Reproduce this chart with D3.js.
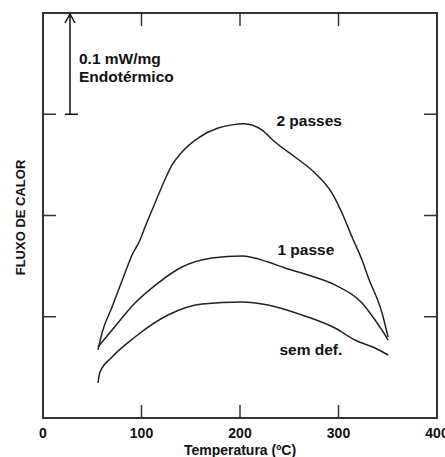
<!DOCTYPE html>
<html>
<head>
<meta charset="utf-8">
<script src="https://cdn.jsdelivr.net/npm/d3@7"></script>
<style>
  body { margin: 0; background: #fff; }
  text { font-family: Arial, "Liberation Sans", sans-serif; font-weight: bold; fill: #111; }
</style>
</head>
<body>
<div id="chart"></div>
<script>
// temperature (ºC) and heat flow (mW/mg, arbitrary offset)
var temp2 = [55.8, 59.9, 70.1, 83.2, 90.4, 98.5, 103.6, 113.7, 125.9, 131.0, 141.1, 157.4, 177.7, 192, 204, 222.3, 235.5, 255.8, 276.1, 293.4, 303.6, 313.7, 323.9, 330.0, 344.2, 350.3];
var flow2 = [0.0672, 0.0840, 0.1096, 0.1432, 0.1610, 0.1758, 0.1886, 0.2123, 0.2400, 0.2499, 0.2627, 0.2765, 0.2864, 0.2895, 0.2906, 0.2844, 0.2726, 0.2578, 0.2420, 0.2222, 0.2025, 0.1788, 0.1560, 0.1393, 0.1037, 0.0800];

var temp1 = [55.8, 70.1, 93.4, 116.8, 141.1, 171.6, 202.0, 228.4, 245.7, 269.0, 296.4, 323.9, 337.1, 347.2, 350.3];
var flow1 = [0.0701, 0.0869, 0.1136, 0.1333, 0.1491, 0.1580, 0.1600, 0.1541, 0.1481, 0.1412, 0.1314, 0.1136, 0.0968, 0.0820, 0.0770];

var temp0 = [55.8, 57.9, 70.1, 93.4, 126.9, 161.4, 202.0, 228.4, 262.9, 296.4, 316.8, 337.1, 350.3];
var flow0 = [0.0346, 0.0454, 0.0602, 0.0800, 0.1017, 0.1126, 0.1146, 0.1116, 0.1017, 0.0889, 0.0770, 0.0691, 0.0622];

var seriesNames = ["2 passes", "1 passe", "sem def."];
var labelPos = [[237, 0.288], [238, 0.161], [240, 0.062]]; // [temp, flow] of label baseline start
var xTicks = [0, 100, 200, 300, 400];
var yTicks = [0.1, 0.2, 0.3];

var series = [
  temp2.map((t, i) => ({ t: t, v: flow2[i] })),
  temp1.map((t, i) => ({ t: t, v: flow1[i] })),
  temp0.map((t, i) => ({ t: t, v: flow0[i] }))
];

var margin = { top: 13, right: 8, bottom: 39, left: 43 },
  width = 445 - margin.left - margin.right,
  height = 457 - margin.top - margin.bottom;

var svg = d3.select("#chart")
  .append("svg")
  .attr("width", 445)
  .attr("height", 457)
  .append("g")
  .attr("transform", "translate(" + margin.left + "," + margin.top + ")");

var x = d3.scaleLinear().domain([0, 400]).range([0, width]);
var y = d3.scaleLinear().domain([0, 0.4]).range([height, 0]);

var tickLen = 13;

// frame
svg.append("rect")
  .attr("width", width)
  .attr("height", height)
  .attr("fill", "none")
  .attr("stroke", "#333")
  .attr("stroke-width", 2);

// inner ticks, all four sides
xTicks.slice(1, -1).forEach(function (t) {
  svg.append("line").attr("x1", x(t)).attr("x2", x(t)).attr("y1", height).attr("y2", height - tickLen)
    .attr("stroke", "#333").attr("stroke-width", 1.5);
  svg.append("line").attr("x1", x(t)).attr("x2", x(t)).attr("y1", 0).attr("y2", tickLen)
    .attr("stroke", "#333").attr("stroke-width", 1.5);
});
yTicks.forEach(function (t) {
  svg.append("line").attr("x1", 0).attr("x2", tickLen).attr("y1", y(t)).attr("y2", y(t))
    .attr("stroke", "#333").attr("stroke-width", 1.5);
  svg.append("line").attr("x1", width).attr("x2", width - tickLen).attr("y1", y(t)).attr("y2", y(t))
    .attr("stroke", "#333").attr("stroke-width", 1.5);
});

// x tick labels
svg.selectAll(".xlab")
  .data(xTicks)
  .enter().append("text")
  .attr("x", d => x(d))
  .attr("y", height + 20)
  .attr("text-anchor", "middle")
  .style("font-size", "14px")
  .text(d => d);

svg.append("text")
  .attr("x", x(200))
  .attr("y", height + 37)
  .attr("text-anchor", "middle")
  .style("font-size", "14px")
  .text("Temperatura (ºC)");

svg.append("text")
  .attr("transform", "translate(-18," + (y(0.2) + 2) + ") rotate(-90)")
  .attr("text-anchor", "middle")
  .style("font-size", "13px")
  .text("FLUXO DE CALOR");

// curves
var line = d3.line()
  .x(d => x(d.t))
  .y(d => y(d.v))
  .curve(d3.curveMonotoneX);

svg.selectAll(".curve")
  .data(series)
  .enter().append("path")
  .attr("d", line)
  .attr("fill", "none")
  .attr("stroke", "#222")
  .attr("stroke-width", 1.5);

svg.selectAll(".slab")
  .data(seriesNames)
  .enter().append("text")
  .attr("x", (d, i) => x(labelPos[i][0]))
  .attr("y", (d, i) => y(labelPos[i][1]))
  .style("font-size", "15.5px")
  .text(d => d);

// scale bar 0.1 mW/mg
var bx = x(27.4);
svg.append("line").attr("x1", bx).attr("x2", bx).attr("y1", y(0.4) + 1).attr("y2", y(0.3))
  .attr("stroke", "#111").attr("stroke-width", 1.5);
svg.append("line").attr("x1", bx - 5).attr("x2", bx + 8).attr("y1", y(0.3)).attr("y2", y(0.3))
  .attr("stroke", "#111").attr("stroke-width", 1.5);
svg.append("path")
  .attr("d", "M" + (bx - 5) + "," + (y(0.4) + 10) + "L" + bx + "," + (y(0.4) + 1) + "L" + (bx + 5) + "," + (y(0.4) + 10))
  .attr("fill", "none").attr("stroke", "#111").attr("stroke-width", 1.5);

svg.append("text").attr("x", bx + 9).attr("y", 51).style("font-size", "15.5px").text("0.1 mW/mg");
svg.append("text").attr("x", bx + 9).attr("y", 69).style("font-size", "15.5px").text("Endotérmico");
</script>
</body>
</html>
